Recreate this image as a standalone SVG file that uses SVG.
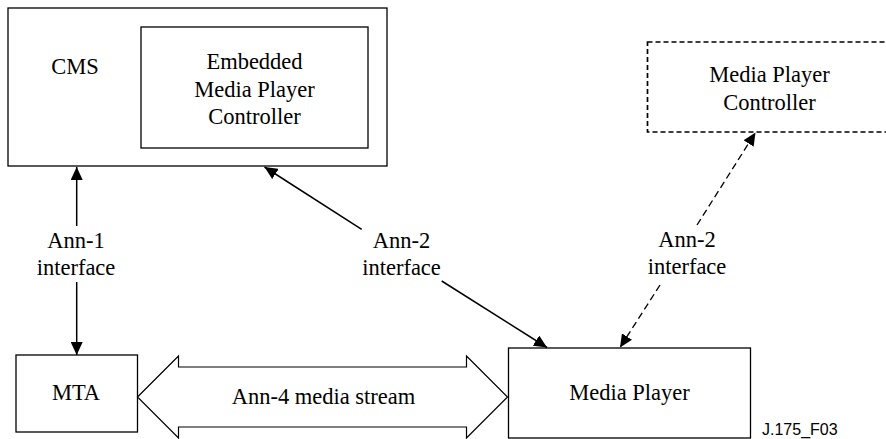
<svg xmlns="http://www.w3.org/2000/svg" width="886" height="439" viewBox="0 0 886 439">
<style>
.box{fill:#fff;stroke:#000;stroke-width:1.3}
.dbox{fill:#fff;stroke:#000;stroke-width:1.7;stroke-dasharray:5 3}
.t{font-family:"Liberation Serif","Times New Roman",serif;font-size:22.5px;fill:#000;text-anchor:middle}
.ln{fill:none;stroke:#000;stroke-width:1.5}
.dl{fill:none;stroke:#000;stroke-width:1.3;stroke-dasharray:7 4}
.blk{fill:#fff;stroke:#000;stroke-width:1.2}
.id{font-family:"Liberation Sans",Arial,sans-serif;font-size:16px;fill:#000}
</style>
<defs>
<marker id="ah" markerUnits="userSpaceOnUse" markerWidth="14" markerHeight="12" viewBox="0 0 14 12" refX="13" refY="6" orient="auto">
<path d="M0,0 L13,6 L0,12 Z" fill="#000"/>
</marker>
</defs>
<rect width="886" height="439" fill="#fff"/>
<g id="cms">
<rect class="box" x="8" y="8" width="379" height="158"/>
<text class="t" x="75" y="74">CMS</text>
</g>
<g id="embedded">
<rect class="box" x="141" y="27" width="227" height="121"/>
<text class="t" x="254.5" y="69">Embedded</text>
<text class="t" x="254.5" y="96.5">Media Player</text>
<text class="t" x="254.5" y="124">Controller</text>
</g>
<g id="mpc">
<rect class="dbox" x="647.5" y="42" width="244" height="90"/>
<text class="t" x="769.5" y="82">Media Player</text>
<text class="t" x="769.5" y="109.5">Controller</text>
</g>
<g id="mta">
<rect class="box" x="16" y="355" width="121.5" height="77"/>
<text class="t" x="76" y="400">MTA</text>
</g>
<g id="mediaplayer">
<rect class="box" x="508.5" y="348" width="242" height="90"/>
<text class="t" x="629.5" y="400">Media Player</text>
</g>
<g id="connectors">
<line class="ln" x1="76.7" y1="226" x2="76.7" y2="167" marker-end="url(#ah)"/>
<line class="ln" x1="76.7" y1="282" x2="76.7" y2="355" marker-end="url(#ah)"/>
<line class="ln" x1="361.7" y1="229.3" x2="264.5" y2="167" marker-end="url(#ah)"/>
<line class="ln" x1="441.7" y1="281" x2="547" y2="347.5" marker-end="url(#ah)"/>
<line class="dl" x1="697" y1="225" x2="755.5" y2="132.5" marker-end="url(#ah)"/>
<line class="dl" x1="660" y1="285" x2="620" y2="347.5" marker-end="url(#ah)"/>
<path class="blk" d="M137.5,397 L178.5,356 L178.5,367 L466.5,367 L466.5,356 L507.5,397 L466.5,438 L466.5,427 L178.5,427 L178.5,438 Z"/>
<text class="t" x="323.5" y="403.5">Ann-4 media stream</text>
<text class="t" x="76" y="247.5">Ann-1</text>
<text class="t" x="76" y="274.5">interface</text>
<text class="t" x="401.5" y="247.5">Ann-2</text>
<text class="t" x="401.5" y="274.5">interface</text>
<text class="t" x="687" y="247">Ann-2</text>
<text class="t" x="687" y="274">interface</text>
</g>
<text class="id" x="762" y="435">J.175_F03</text>
</svg>
